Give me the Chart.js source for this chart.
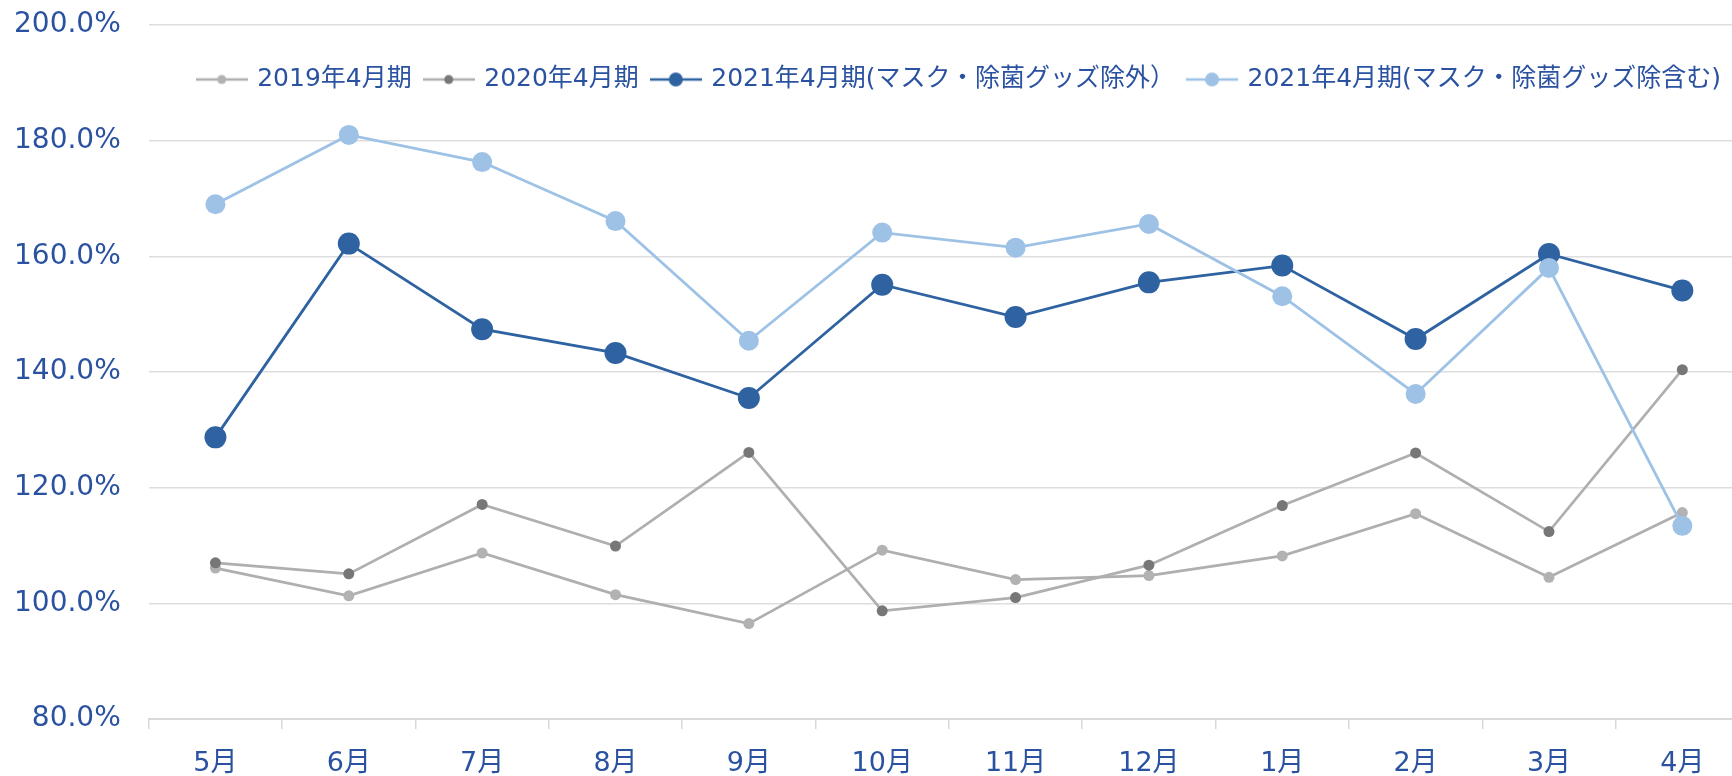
<!DOCTYPE html>
<html>
<head>
<meta charset="utf-8">
<script src="https://cdn.jsdelivr.net/npm/chart.js@4"></script>
<style>
html,body{margin:0;padding:0;background:#fff;overflow:hidden;width:1732px;height:776px}
#wrap{width:1760px;height:798px}
</style>
</head>
<body>
<div id="wrap"><canvas id="c" width="1760" height="798"></canvas></div>
<script>
const categories = ['5月','6月','7月','8月','9月','10月','11月','12月','1月','2月','3月','4月'];
const seriesLabels = ['2019年4月期','2020年4月期','2021年4月期(マスク・除菌グッズ除外）','2021年4月期(マスク・除菌グッズ除含む)'];
const fy2019 = [106.1, 101.3, 108.7, 101.5, 96.5, 109.2, 104.1, 104.8, 108.2, 115.5, 104.5, 115.7];
const fy2020 = [107.0, 105.1, 117.1, 109.9, 126.1, 98.7, 101.0, 106.6, 116.9, 126.0, 112.4, 140.4];
const fy2021ex = [128.7, 162.2, 147.4, 143.3, 135.5, 155.1, 149.5, 155.5, 158.4, 145.7, 160.4, 154.1];
const fy2021in = [169.0, 181.0, 176.3, 166.1, 145.4, 164.1, 161.5, 165.6, 153.1, 136.2, 158.0, 113.4];
const yMin = 80, yMax = 200, yStep = 20;

const textColor = '#2A52A1';
const grayLine = '#AFAFAF';
const c2019 = '#B2B2B2';
const c2020 = '#777777';
const cDark = '#2E62A1';
const cLight = '#9DC2E6';
const labelFamily = '"DejaVu Sans", "Noto Sans CJK JP", sans-serif';

function legendIcon(lineColor, dotColor, r) {
  const c = document.createElement('canvas');
  c.width = 52; c.height = 20;
  const g = c.getContext('2d');
  g.strokeStyle = lineColor; g.lineWidth = 2.6;
  g.beginPath(); g.moveTo(0, 10); g.lineTo(52, 10); g.stroke();
  g.fillStyle = dotColor;
  g.beginPath(); g.arc(26, 10, r, 0, Math.PI * 2); g.fill();
  return c;
}
const legendIcons = [
  legendIcon(grayLine, c2019, 4.5),
  legendIcon(grayLine, c2020, 4.5),
  legendIcon(cDark, cDark, 7),
  legendIcon(cLight, cLight, 7)
];

// Let the legend float over the top of the plot area instead of taking layout space
const legendOverlay = {
  id: 'legendOverlay',
  afterInit(chart) {
    const lg = chart.legend;
    const orig = lg.update.bind(lg);
    lg.update = function (w, h, m) {
      orig(w, h, m);
      this._realH = this.height;
      this.height = 0;
    };
  },
  afterLayout(chart) {
    const lg = chart.legend;
    lg.height = lg._realH;
    lg.bottom = lg.top + lg._realH;
    lg.left += 11;
    lg.right += 11;
  }
};

function ds(label, data, line, point, r, w, order) {
  return {
    label, data,
    borderColor: line, backgroundColor: point,
    pointBackgroundColor: point, pointBorderColor: point,
    pointBorderWidth: 0, pointRadius: r, pointHoverRadius: r,
    borderWidth: w, tension: 0, order
  };
}

new Chart(document.getElementById('c'), {
  type: 'line',
  data: {
    labels: categories,
    datasets: [
      ds(seriesLabels[0], fy2019, grayLine, c2019, 5.5, 2.7, 4),
      ds(seriesLabels[1], fy2020, grayLine, c2020, 5.5, 2.7, 3),
      ds(seriesLabels[2], fy2021ex, cDark, cDark, 11, 2.8, 2),
      ds(seriesLabels[3], fy2021in, cLight, cLight, 10, 2.8, 1)
    ]
  },
  plugins: [legendOverlay],
  options: {
    responsive: false,
    animation: false,
    devicePixelRatio: 1,
    layout: { padding: { left: 14, right: 1, top: 25, bottom: 0 } },
    plugins: {
      tooltip: { enabled: false },
      legend: {
        position: 'top',
        fullSize: false,
        title: { display: true, text: '', font: { size: 28, lineHeight: 1 }, padding: 0 },
        labels: {
          color: textColor,
          font: { family: labelFamily, size: 25 },
          padding: 14,
          usePointStyle: true,
          pointStyleWidth: 46,
          sort: (a, b) => a.datasetIndex - b.datasetIndex,
          generateLabels(chart) {
            const items = Chart.defaults.plugins.legend.labels.generateLabels(chart);
            items.forEach(it => { it.pointStyle = legendIcons[it.datasetIndex]; it.fontColor = textColor; });
            return items;
          }
        }
      }
    },
    scales: {
      x: {
        offset: true,
        grid: { display: true, drawOnChartArea: false, drawTicks: true, tickLength: 10, color: '#D9D9D9', lineWidth: 1.5, offset: true },
        border: { display: true, color: '#D9D9D9', width: 2 },
        ticks: {
          color: textColor,
          padding: 21,
          font: { family: labelFamily, size: 27, lineHeight: 1 },
          maxRotation: 0, autoSkip: false
        }
      },
      y: {
        min: yMin, max: yMax,
        grid: { color: '#DEDEDE', lineWidth: 1.5, drawTicks: true, tickLength: 28, tickColor: 'rgba(0,0,0,0)' },
        border: { display: false },
        ticks: {
          stepSize: yStep,
          color: textColor,
          padding: 0,
          font: { family: '"DejaVu Sans"', size: 28 },
          callback: v => v.toFixed(1) + '%'
        }
      }
    }
  }
});
</script>
</body>
</html>
